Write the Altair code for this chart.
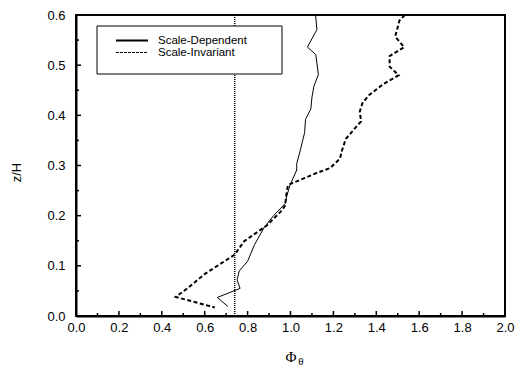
import altair as alt
import pandas as pd

# Scale-Dependent profile (solid)
phi_dep = [1.117, 1.123, 1.079, 1.118, 1.130, 1.109, 1.100, 1.095, 1.070, 1.066,
           1.045, 1.029, 1.029, 0.998, 0.983, 0.975, 0.923, 0.878, 0.832, 0.800,
           0.761, 0.751, 0.765, 0.659, 0.708]
z_dep = [0.600, 0.571, 0.536, 0.521, 0.481, 0.458, 0.436, 0.413, 0.392, 0.366,
         0.329, 0.304, 0.291, 0.261, 0.240, 0.224, 0.201, 0.177, 0.142, 0.109,
         0.090, 0.072, 0.055, 0.037, 0.019]
# Scale-Invariant profile (dashed)
phi_inv = [1.533, 1.508, 1.488, 1.530, 1.462, 1.462, 1.504, 1.435, 1.365, 1.335,
           1.323, 1.329, 1.300, 1.258, 1.240, 1.231, 1.185, 1.121, 0.988, 0.980,
           0.975, 0.952, 0.891, 0.784, 0.739, 0.601, 0.525, 0.465, 0.647]
z_inv = [0.600, 0.589, 0.557, 0.536, 0.518, 0.497, 0.480, 0.463, 0.440, 0.424,
         0.408, 0.388, 0.374, 0.353, 0.330, 0.314, 0.295, 0.285, 0.261, 0.240,
         0.220, 0.207, 0.181, 0.149, 0.122, 0.084, 0.057, 0.038, 0.017]
series_names = ["Scale-Dependent", "Scale-Invariant"]
ref_phi = [0.74]

x_major = [0.0, 0.2, 0.4, 0.6, 0.8, 1.0, 1.2, 1.4, 1.6, 1.8, 2.0]
x_minor = [0.1, 0.3, 0.5, 0.7, 0.9, 1.1, 1.3, 1.5, 1.7, 1.9]
y_major = [0.0, 0.1, 0.2, 0.3, 0.4, 0.5, 0.6]
y_minor = [0.05, 0.15, 0.25, 0.35, 0.45, 0.55]

W, H = 429, 301
FONT = "Liberation Sans"

df_dep = pd.DataFrame({"phi": phi_dep, "z": z_dep, "i": list(range(len(z_dep)))})
df_inv = pd.DataFrame({"phi": phi_inv, "z": z_inv, "i": list(range(len(z_inv)))})

xs = alt.Scale(domain=[0, 2], nice=False, zero=False)
ys = alt.Scale(domain=[0, 0.6], nice=False, zero=False)

line_dep = alt.Chart(df_dep).mark_line(color="black", strokeWidth=1).encode(
    x=alt.X("phi:Q", scale=xs, title=None,
            axis=alt.Axis(values=x_major, format=".1f", labelPadding=5)),
    y=alt.Y("z:Q", scale=ys, title="z/H",
            axis=alt.Axis(values=y_major, format=".1f", labelPadding=11,
                          titleX=-60, titleY=157)),
    order="i:Q")
line_inv = alt.Chart(df_inv).mark_line(color="black", strokeWidth=2, strokeDash=[4, 2.5]).encode(
    x=alt.X("phi:Q", scale=xs), y=alt.Y("z:Q", scale=ys), order="i:Q")

ref = alt.Chart(pd.DataFrame({"phi": ref_phi})).mark_rule(
    color="black", strokeWidth=1.5, strokeDash=[1, 1]
).encode(x=alt.X("phi:Q", scale=xs))

# legend box (drawn by hand to match the boxed legend)
frame = alt.Chart(pd.DataFrame({"lg": [1]})).mark_rect(
    fill="white", stroke="black", strokeWidth=1
).encode(x=alt.value(21), x2=alt.value(206), y=alt.value(11), y2=alt.value(59))
leg_solid = alt.Chart(pd.DataFrame({"ls": [1]})).mark_rule(
    color="black", strokeWidth=2
).encode(x=alt.value(40), x2=alt.value(72), y=alt.value(25.5))
leg_dash = alt.Chart(pd.DataFrame({"ld": [1]})).mark_rule(
    color="black", strokeWidth=1, strokeDash=[3, 1]
).encode(x=alt.value(40), x2=alt.value(72), y=alt.value(37.5))
leg_t1 = alt.Chart(pd.DataFrame({"t": [series_names[0]]})).mark_text(
    font=FONT, fontSize=11.5, color="black", align="left", baseline="middle"
).encode(x=alt.value(82), y=alt.value(25.5), text="t:N")
leg_t2 = alt.Chart(pd.DataFrame({"t": [series_names[1]]})).mark_text(
    font=FONT, fontSize=11.5, color="black", align="left", baseline="middle"
).encode(x=alt.value(82), y=alt.value(37.5), text="t:N")

phi_t = alt.Chart(pd.DataFrame({"t": ["Φ"]})).mark_text(
    font="Liberation Serif", fontSize=15, color="black", align="center", baseline="middle"
).encode(x=alt.value(215), y=alt.value(342), text="t:N")
theta_t = alt.Chart(pd.DataFrame({"t": ["θ"]})).mark_text(
    font="Liberation Serif", fontSize=11, color="black", align="center", baseline="middle"
).encode(x=alt.value(225), y=alt.value(347), text="t:N")

# inward ticks
xt_major = alt.Chart(pd.DataFrame({"xmaj": x_major})).mark_rule(color="#000000", strokeWidth=1.5).encode(
    x=alt.X("xmaj:Q", scale=xs), y=alt.value(H), y2=alt.value(H - 5))
xt_minor = alt.Chart(pd.DataFrame({"xmin": x_minor})).mark_rule(color="#000000", strokeWidth=1.5).encode(
    x=alt.X("xmin:Q", scale=xs), y=alt.value(H), y2=alt.value(H - 3))
yt_major = alt.Chart(pd.DataFrame({"ymaj": y_major})).mark_rule(color="#000000", strokeWidth=1.5).encode(
    y=alt.Y("ymaj:Q", scale=ys), x=alt.value(0), x2=alt.value(5))
yt_minor = alt.Chart(pd.DataFrame({"ymin": y_minor})).mark_rule(color="#000000", strokeWidth=1.5).encode(
    y=alt.Y("ymin:Q", scale=ys), x=alt.value(0), x2=alt.value(3))

# plot frame
box = alt.Chart(pd.DataFrame({"bx": [1]})).mark_rect(
    fillOpacity=0, stroke="#000000", strokeWidth=2
).encode(x=alt.value(0), x2=alt.value(W), y=alt.value(0), y2=alt.value(H))

chart = alt.layer(
    line_dep, line_inv, ref, frame, leg_solid, leg_dash, leg_t1, leg_t2,
    phi_t, theta_t, xt_major, xt_minor, yt_major, yt_minor, box
).properties(
    width=W, height=H,
    background="white",
    autosize=alt.AutoSizeParams(type="none"),
    padding={"left": 68, "top": 7, "right": 10, "bottom": 54},
).configure_view(
    stroke="#000000", strokeWidth=2
).configure_axis(
    grid=False, ticks=False, domain=True, domainColor="#000000", domainWidth=2,
    labelFlush=False,
    labelFont=FONT, labelFontSize=13, labelColor="black",
    titleFont=FONT, titleFontSize=13, titleFontWeight="normal", titleColor="black"
).configure_axisY(
    titleAngle=-90, titleBaseline="middle", titleAlign="center"
)

chart.save("out.html", embed_options={"renderer": "svg", "actions": False})
